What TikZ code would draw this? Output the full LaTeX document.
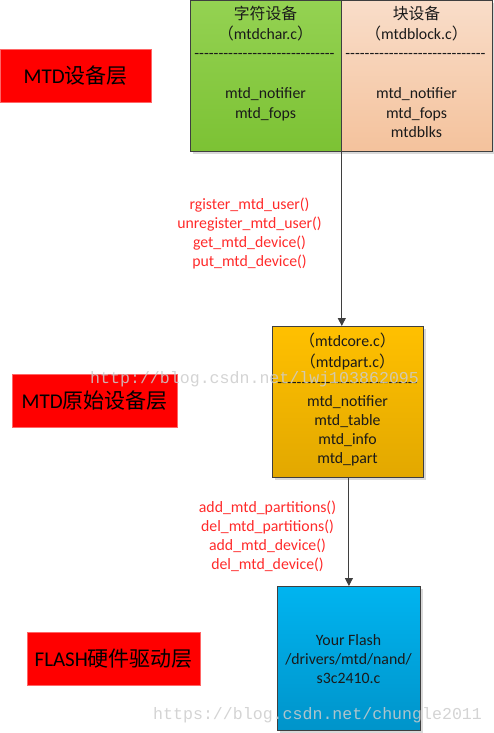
\documentclass[tikz,border=0pt]{standalone}
\usepackage{fontspec}
\setmainfont{Carlito}
\newfontfamily\cjk{Noto Sans CJK SC}
\newfontfamily\wmfont{Liberation Mono}
\usetikzlibrary{arrows.meta,shadows}
\definecolor{edge}{HTML}{3F3F3F}
\definecolor{txtc}{HTML}{1A1A1A}
\definecolor{apired}{HTML}{FF2A2A}
\definecolor{greenT}{HTML}{94D252}
\definecolor{greenB}{HTML}{7CC234}
\definecolor{peachT}{HTML}{F9DDC9}
\definecolor{peachB}{HTML}{F4C29C}
\definecolor{orangeT}{HTML}{FFC000}
\definecolor{orangeB}{HTML}{E2A800}
\definecolor{blueT}{HTML}{00B4F0}
\definecolor{blueB}{HTML}{0094CA}
\newcommand{\lp}{{\cjk （}}
\newcommand{\rp}{{\cjk ）}}
\newcommand{\dashline}{-{}-{}-{}-{}-{}-{}-{}-{}-{}-{}-{}-{}-{}-{}-{}-{}-{}-{}-{}-{}-{}-{}-{}-{}-{}-{}-{}-{}-}
\begin{document}
\begin{tikzpicture}[x=1pt,y=-1pt,
  box/.style={draw=edge, line width=0.8pt, anchor=north west, inner sep=0pt,
    drop shadow={shadow xshift=3pt,shadow yshift=-3pt,fill=black!15,opacity=1}},
  txt/.style={font=\fontsize{15.8}{19}\selectfont, text=txtc, inner sep=0pt, anchor=base},
  api/.style={font=\fontsize{15.8}{19}\selectfont, text=apired, inner sep=0pt, anchor=base},
  layer/.style={fill=red, draw=red!60!white, line width=0.6pt, anchor=north west,
    inner sep=0pt, minimum height=53pt, font=\fontsize{21}{24}\selectfont, text=black},
  link/.style={draw=edge, line width=0.9pt, -{Triangle[width=8pt,length=8pt]}},
  wm/.style={font=\wmfont\fontsize{16.6}{18}\selectfont, text=black!20, opacity=0.85,
    inner sep=0pt, anchor=base west}]
\useasboundingbox (0,0) rectangle (494,733);

% top layer boxes
\node[box, top color=greenT, bottom color=greenB, minimum width=151pt, minimum height=151pt] (char) at (190,0) {};
\node[box, top color=peachT, bottom color=peachB, minimum width=151pt, minimum height=151pt] (blk) at (341,0) {};

\node[txt] (c1) at (265.5,20) {\cjk 字符设备};
\node[txt] (c2) at (265.5,40) {\lp mtdchar.c\rp};
\node[txt] (c3) at (264.5,59) {\dashline};
\node[txt] (c4) at (265.5,99) {mtd\_notifier};
\node[txt] (c5) at (265.5,118) {mtd\_fops};

\node[txt] (b1) at (416.5,20) {\cjk 块设备};
\node[txt] (b2) at (416.5,40) {\lp mtdblock.c\rp};
\node[txt] (b3) at (415.5,59) {\dashline};
\node[txt] (b4) at (416.5,99) {mtd\_notifier};
\node[txt] (b5) at (416.5,118) {mtd\_fops};
\node[txt] (b6) at (416.5,137) {mtdblks};

% middle box
\node[box, top color=orangeT, bottom color=orangeB, minimum width=151pt, minimum height=151pt] (core) at (272,326) {};
\node[txt] (m1) at (347.5,346) {\lp mtdcore.c\rp};
\node[txt] (m2) at (347.5,367) {\lp mtdpart.c\rp};
\node[txt] (m3) at (347.5,387) {\dashline};
\node[txt] (m4) at (347.5,406) {mtd\_notifier};
\node[txt] (m5) at (347.5,425) {mtd\_table};
\node[txt] (m6) at (347.5,444) {mtd\_info};
\node[txt] (m7) at (347.5,463) {mtd\_part};

% bottom box
\node[box, top color=blueT, bottom color=blueB, minimum width=143pt, minimum height=144pt] (flash) at (277,586) {};
\node[txt] (f1) at (348.5,645) {Your Flash};
\node[txt] (f2) at (348.5,664) {/drivers/mtd/nand/};
\node[txt] (f3) at (348.5,683) {s3c2410.c};

% layer labels
\node[layer, minimum width=151pt] (L1) at (0,49) {MTD{\cjk 设备层}};
\node[layer, minimum width=165pt] (L2) at (12,374) {MTD{\cjk 原始设备层}};
\node[layer, minimum width=173pt] (L3) at (27,632) {FLASH{\cjk 硬件驱动层}};

% connectors
\draw[link] (char.south east) -- (char.south east |- core.north);
\draw[link] (flash.north |- core.south) -- (flash.north);

% api labels
\node[api] (a1) at (249.5,209) {rgister\_mtd\_user()};
\node[api] (a2) at (249.5,228) {unregister\_mtd\_user()};
\node[api] (a3) at (249.5,247) {get\_mtd\_device()};
\node[api] (a4) at (249.5,266) {put\_mtd\_device()};

\node[api] (p1) at (267.5,512) {add\_mtd\_partitions()};
\node[api] (p2) at (267.5,531) {del\_mtd\_partitions()};
\node[api] (p3) at (267.5,550) {add\_mtd\_device()};
\node[api] (p4) at (267.5,569) {del\_mtd\_device()};

% watermarks
\node[wm] (w1) at (90,383) {http://blog.csdn.net/lwj103862095};
\node[wm] (w2) at (153,719) {https://blog.csdn.net/chungle2011};
\end{tikzpicture}
\end{document}
